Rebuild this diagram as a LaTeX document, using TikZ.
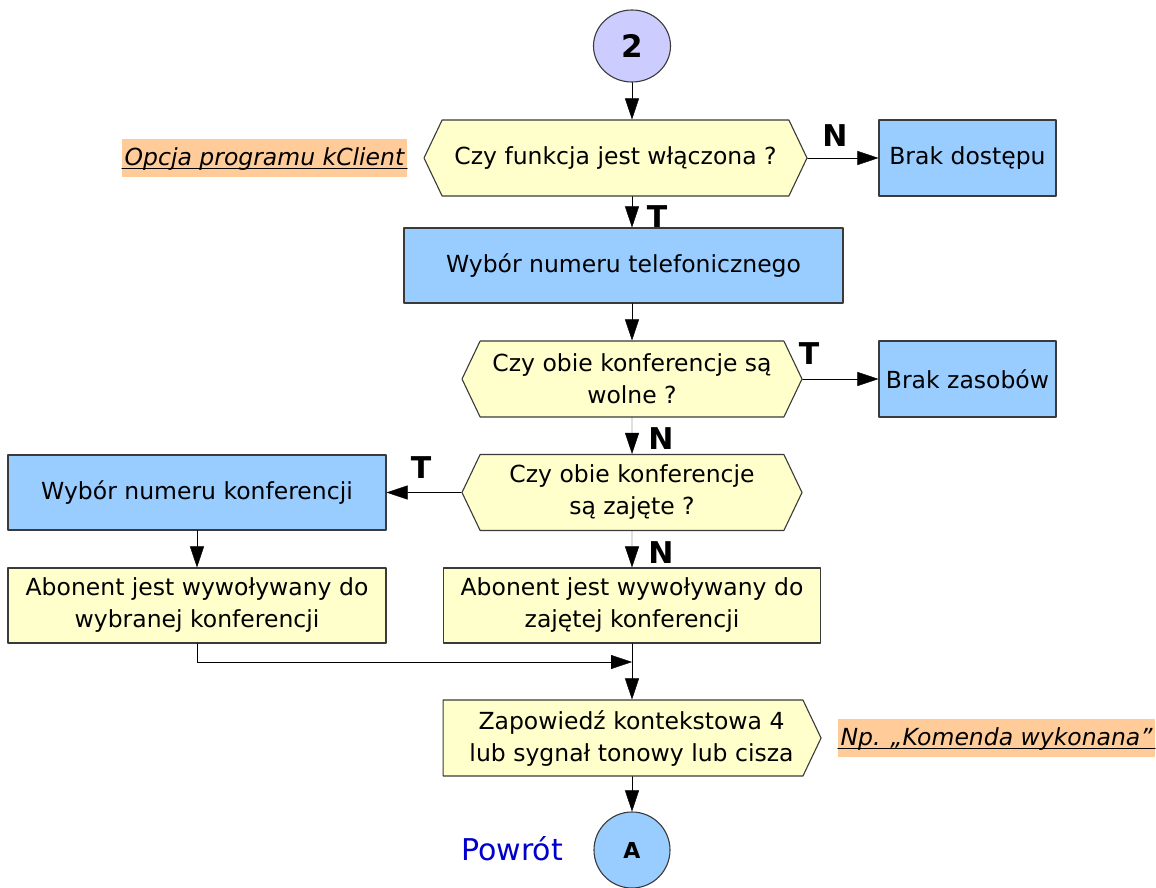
\documentclass[tikz,border=0pt]{standalone}
\usepackage{fontspec}
\setmainfont{DejaVu Sans}
\usetikzlibrary{arrows.meta,shapes.symbols,shapes.geometric,calc}
\definecolor{zolty}{HTML}{FFFFCC}
\definecolor{niebieski}{HTML}{99CCFF}
\definecolor{fiolet}{HTML}{CCCCFF}
\definecolor{pomarancz}{HTML}{FFCC99}
\definecolor{ramka}{HTML}{3A3A3A}
\definecolor{powrotkolor}{HTML}{0000CC}
\tikzset{
  blok/.style={draw=ramka, line width=1.1pt, minimum height=75pt, inner sep=0pt, align=center},
  akcja/.style={blok, fill=niebieski},
  opis/.style={blok, fill=zolty},
  decyzja/.style={blok, fill=zolty, shape=signal, signal to=east and west, signal pointer angle=129, minimum height=76pt},
  komunikat/.style={blok, fill=zolty, shape=signal, signal to=east, signal pointer angle=129, minimum height=76pt},
  lacznik/.style={draw=ramka, line width=1.1pt, ellipse, inner sep=0pt, font=\fontsize{22}{22}\selectfont\bfseries},
  etykieta/.style={inner sep=0pt, font=\fontsize{30}{30}\selectfont\bfseries},
  notatka/.style={fill=pomarancz, inner xsep=2.5pt, inner ysep=5.5pt, text height=21pt, text depth=6pt, font=\fontsize{23.5}{32}\selectfont\itshape}
}
\begin{document}
\begin{tikzpicture}[x=1pt, y=-1pt, >={Triangle[length=21pt,width=14pt]}, font=\fontsize{23.5}{32}\selectfont, line join=round, line cap=round]
	\useasboundingbox (0,0) rectangle (1156,888);
	% bloki
	\node[lacznik, fill=fiolet, minimum width=77pt, minimum height=72pt, font=\fontsize{31}{31}\selectfont\bfseries] (start) at (632,46) {2};
	\node[decyzja, minimum width=383pt] (wlaczona) at (615.5,158) {Czy funkcja jest włączona ?};
	\node[akcja, minimum width=177pt, minimum height=76pt] (brakdostepu) at (967.5,158) {Brak dostępu};
	\node[akcja, minimum width=439pt] (telefon) at (623.5,265.5) {Wybór numeru telefonicznego};
	\node[decyzja, minimum width=340pt] (wolne) at (632,379) {Czy obie konferencje są\\wolne ?};
	\node[akcja, minimum width=177pt, minimum height=76pt] (brakzasobow) at (967.5,379) {Brak zasobów};
	\node[decyzja, minimum width=340pt] (zajete) at (632,492.5) {Czy obie konferencje\\są zajęte ?};
	\node[akcja, minimum width=378pt] (konferencja) at (197,492.5) {Wybór numeru konferencji};
	\node[opis, minimum width=378pt] (wybrana) at (197,605.5) {Abonent jest wywoływany do\\wybranej konferencji};
	\node[opis, minimum width=377pt] (zajeta) at (632,605.5) {Abonent jest wywoływany do\\zajętej konferencji};
	\node[komunikat, minimum width=378pt] (zapowiedz) at (623,738) {\hspace*{17pt}Zapowiedź kontekstowa 4\\\hspace*{17pt}lub sygnał tonowy lub cisza};
	\node[lacznik, fill=niebieski, minimum size=76pt] (powrot) at (632,850) {A};
	\node[anchor=base, text=powrotkolor, inner sep=0pt, font=\fontsize{30}{30}\selectfont] (powrotnapis) at (512,860.7) {Powrót};
	% notatki
	\node[notatka] (kclient) at (264.5,158) {Opcja programu kClient};
	\node[notatka] (przyklad) at (996.5,738) {Np. „Komenda wykonana”};
	\draw[line width=1.1pt] ([yshift=-3pt]kclient.base west) -- ([yshift=-3pt]kclient.base east);
	\draw[line width=1.1pt] ([yshift=-3pt]przyklad.base west) -- ([yshift=-3pt]przyklad.base east);
	% polaczenia
	\coordinate (zbieg) at ($(zajeta.south)!0.33!(zapowiedz.north -| zajeta.south)$);
	\draw[->] (start) -- (start |- wlaczona.north);
	\draw[->] (wlaczona.east) -- (brakdostepu);
	\draw[->] (start |- wlaczona.south) -- (start |- telefon.north);
	\draw[->] (start |- telefon.south) -- (start |- wolne.north);
	\draw[->] (wolne.east) -- (brakzasobow);
	\draw[->] (wolne) -- (zajete);
	\draw[->] (zajete.west) -- (konferencja);
	\draw[->] (konferencja) -- (wybrana);
	\draw[->] (zajete) -- (zajeta);
	\draw[->] (zajeta.south) -- (zajeta.south |- zapowiedz.north);
	\draw[->] (wybrana.south) |- (zbieg);
	\draw[->] (zajeta.south |- zapowiedz.south) -- (powrot);
	% etykiety T/N
	\node[etykieta] (nie1) at (835,136) {N};
	\node[etykieta] (tak1) at (657,217) {T};
	\node[etykieta] (tak2) at (809,354) {T};
	\node[etykieta] (nie2) at (661,438.5) {N};
	\node[etykieta] (tak3) at (421,468) {T};
	\node[etykieta] (nie3) at (661,552.5) {N};
\end{tikzpicture}
\end{document}
